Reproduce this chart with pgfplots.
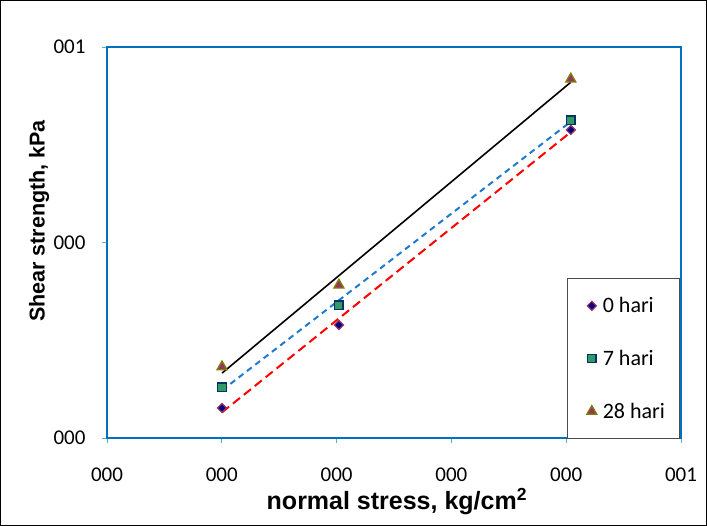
\documentclass[border=0pt]{standalone}
\usepackage{pgfplots}
\usepackage{pgfplotstable}
\pgfplotsset{compat=1.18}
\usepackage{fontspec}
\setmainfont{Carlito}
\newfontfamily\arialfont{Liberation Sans}

\definecolor{axisblue}{HTML}{0070C0}
\definecolor{tickteal}{HTML}{5FAFB8}
\definecolor{dblue}{HTML}{1F7ACF}
\definecolor{navyfill}{HTML}{000080}
\definecolor{plum}{HTML}{993366}
\definecolor{seagreen}{HTML}{339966}
\definecolor{darknavy}{HTML}{003366}
\definecolor{olive}{HTML}{808000}

% 0 hari
\pgfplotstableread{
x y
0.2004 0.0767
0.4040 0.2890
0.8080 0.7880
}\hariA
% 7 hari
\pgfplotstableread{
x y
0.2004 0.1300
0.4040 0.3400
0.8080 0.8130
}\hariB
% 28 hari
\pgfplotstableread{
x y
0.2004 0.1820
0.4040 0.3910
0.8080 0.9180
}\hariC

\begin{document}
\begin{tikzpicture}
\path[use as bounding box] (0,0) rectangle (707pt,526pt);
\draw[black, line width=1.4pt] (0.7pt,0.7pt) rectangle (706.3pt,525.3pt);
\begin{axis}[
	at={(107pt,88pt)}, anchor=south west,
	width=574pt, height=391pt, scale only axis,
	xmin=0, xmax=1, ymin=0, ymax=1,
	xtick={0,0.2,0.4,0.6,0.8,1},
	xticklabels={000,000,000,000,000,001},
	ytick={0,0.5,1},
	yticklabels={000,000,001},
	tick align=outside, tick pos=left,
	major tick length=5pt,
	tick style={tickteal, line width=0.9pt},
	axis line style={axisblue, line width=2pt},
	ticklabel style={font=\fontsize{21}{24}\selectfont},
	xticklabel style={yshift=-21pt},
	yticklabel style={xshift=-13pt},
	xlabel={\arialfont\bfseries normal stress, kg/cm\textsuperscript{2}},
	ylabel={\arialfont\bfseries Shear strength, kPa},
	xlabel style={font=\fontsize{25}{29}\selectfont, at={(axis description cs:0.505,0)}, anchor=center, yshift=-64pt},
	ylabel style={font=\fontsize{21.5}{25}\selectfont, at={(axis description cs:0,0.555)}, anchor=center, yshift=68pt},
	legend style={at={(rel axis cs:0.8014,0.409)}, anchor=north west,
		draw=black!70, line width=0.8pt, fill=white,
		font=\fontsize{22}{26}\selectfont,
		inner xsep=12pt, inner ysep=17pt, row sep=32pt,
		/tikz/every odd column/.append style={column sep=4pt}},
	legend cell align=left,
	legend image code/.code={\path (-7pt,0pt); \draw[mark repeat=2,mark phase=2,#1] plot coordinates {(0pt,0pt) (5pt,0pt) (10pt,0pt)};},
]
% trend lines
\addplot[red, line width=2pt, dash pattern=on 9pt off 5pt, forget plot]
	table[x=x, y={create col/linear regression={y=y}}] {\hariA};
\addplot[dblue, line width=2pt, dash pattern=on 6pt off 4.5pt, forget plot]
	table[x=x, y={create col/linear regression={y=y}}] {\hariB};
\addplot[black, line width=1.6pt, forget plot]
	table[x=x, y={create col/linear regression={y=y}}] {\hariC};
% data
\addplot[only marks, mark=square*, mark size=3.2pt,
	mark options={rotate=45, fill=navyfill, draw=plum, line width=1.2pt}]
	table[x=x, y=y] {\hariA};
\addlegendentry{0 hari}
\addplot[only marks, mark=square*, mark size=4.2pt,
	mark options={fill=seagreen, draw=darknavy, line width=1.3pt}]
	table[x=x, y=y] {\hariB};
\addlegendentry{7 hari}
\addplot[only marks, mark=triangle*, mark size=5.8pt,
	mark options={fill=plum, draw=olive, line width=1.3pt}]
	table[x=x, y=y] {\hariC};
\addlegendentry{28 hari}
\end{axis}
\end{tikzpicture}
\end{document}
